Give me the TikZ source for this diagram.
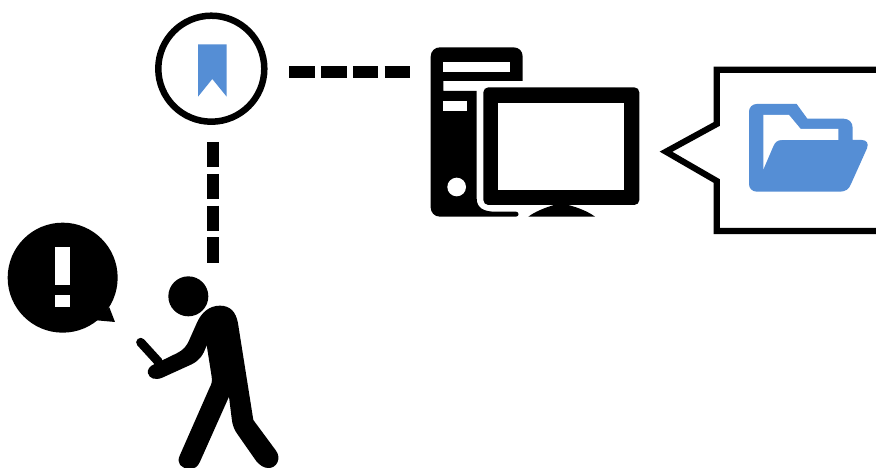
\documentclass[tikz,border=0pt]{standalone}
\definecolor{iconblue}{HTML}{558ED5}
\tikzset{
  link/.style={line width=12.3pt, dash pattern=on 25.5pt off 6.3pt, black},
  ring/.style={circle, draw=black, line width=6.5pt, fill=white, minimum size=106pt, inner sep=0pt},
  hole/.style={fill=white, draw=none},
  solid ink/.style={fill=black, draw=none},
  blue ink/.style={fill=iconblue, draw=none},
  px/.style={x=1pt, y=-1pt}
}
\begin{document}
\begin{tikzpicture}[px]
\useasboundingbox (0,0) rectangle (876,468);
\fill[white] (0,0) rectangle (876,468);
% connectors
\coordinate (hstart) at (289.3,71.7);
\coordinate (hend) at (410.5,71.7);
\coordinate (vstart) at (213,142);
\coordinate (vend) at (213,262.5);
\draw[link] (hstart) -- (hend);
\draw[link] (vstart) -- (vend);
% bookmark
\node[ring] (mark) at (211.3,68.7) {};
\path[blue ink] (198,44.3) -- (226.7,44.3) -- (226.7,96.7) -- (212.3,79) -- (198,96.7) -- cycle;
% computer
\begin{scope}[shift={(420,35)}, x=0.33333pt, y=-0.33333pt]
\path[solid ink] (32,65) .. controls (32,48) and (45,37) .. (60,37) -- (280,37)
  .. controls (297,37) and (308,48) .. (308,65) -- (308,138) -- (70,138) -- (70,168) -- (170,168) -- (170,490)
  .. controls (170,518) and (190,530) .. (225,530) -- (288,530)
  .. controls (298,530) and (298,545) .. (288,545) -- (60,545)
  .. controls (43,545) and (32,532) .. (32,517) -- cycle;
\path[hole] (70,82) rectangle (270,110);
\path[hole] (70,197) rectangle (140,228);
\path[hole] (110,456) circle[radius=28];
\path[solid ink, rounded corners=15*0.33333pt] (190,157) rectangle (658,510);
\path[hole] (235,203) rectangle (613,465);
\path[solid ink] (325,545) .. controls (345,530) and (375,518) .. (402,510) -- (445,510)
  .. controls (475,518) and (505,530) .. (525,545) -- cycle;
\end{scope}
% callout
\draw[line width=6.2pt, miter limit=10, black] (876,69.7) -- (716.7,69.7) -- (716.7,124) -- (666,151.7) -- (716.7,181) -- (716.7,231) -- (876,231);
% folder
\begin{scope}[shift={(650,60)}, x=0.33333pt, y=-0.33333pt]
\path[blue ink] (297,155) .. controls (297,142) and (307,132) .. (320,132) -- (440,132) -- (472,176) -- (580,176)
  .. controls (597,176) and (608,187) .. (608,204) -- (608,240) -- (635,240)
  .. controls (650,240) and (657,250) .. (651,265) -- (603,372)
  .. controls (597,387) and (587,395) .. (570,395) -- (320,395)
  .. controls (307,395) and (297,385) .. (297,372) -- cycle;
\path[hole] (340,165) -- (417,165) -- (452,207) -- (565,207) -- (565,240) -- (395,240)
  .. controls (382,240) and (375,247) .. (370,258) -- (340,328) -- cycle;
\end{scope}
% person and alert
\begin{scope}[shift={(0,210)}, x=0.33333pt, y=-0.33333pt]
\node[circle, fill=black, minimum size=120*0.33333pt, inner sep=0pt] (head) at (565,259) {};
\node[circle, fill=black, minimum size=330*0.33333pt, inner sep=0pt] (alert) at (188,203) {};
\path[solid ink] (328,292) -- (345,336) -- (290,331) -- cycle;
\path[hole] (164,110) rectangle (209,224);
\path[hole] (164,255) rectangle (209,290);
\draw[black, line width=9pt, line cap=round] (422,397) -- (475,455);
\path[solid ink] (660,287) .. controls (690,287) and (708,305) .. (714,340)
  -- (760,630) -- (828,722)
  .. controls (845,745) and (830,775) .. (805,774)
  .. controls (790,774) and (780,765) .. (770,755)
  -- (712,672) .. controls (703,660) and (697,645) .. (695,625)
  -- (687,560) -- (600,755)
  .. controls (592,772) and (585,776) .. (567,776)
  .. controls (545,776) and (527,760) .. (540,735)
  -- (628,535) .. controls (635,522) and (637,515) .. (635,500)
  -- (620,405) .. controls (610,435) and (600,450) .. (575,463)
  -- (487,503) .. controls (465,512) and (448,505) .. (444,490)
  .. controls (441,478) and (450,468) .. (462,463)
  -- (530,430) .. controls (550,420) and (560,410) .. (570,385)
  -- (590,340) .. controls (605,305) and (630,287) .. (660,287) -- cycle;
\end{scope}
\end{tikzpicture}
\end{document}
